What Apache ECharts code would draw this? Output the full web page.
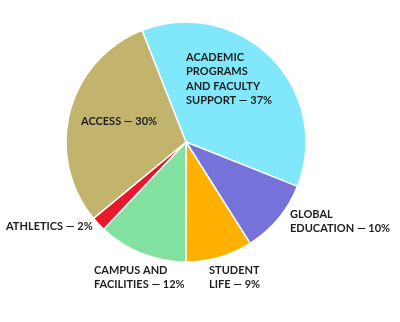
<!DOCTYPE html>
<html><head><meta charset="utf-8">
<script src="https://cdn.jsdelivr.net/npm/echarts@6/dist/echarts.min.js"></script>
<style>html,body{margin:0;padding:0;background:#fff}#c{width:400px;height:322px}</style>
</head><body><div id="c"></div>
<script>
const categories = ["ACADEMIC\nPROGRAMS\nAND FACULTY\nSUPPORT", "GLOBAL\nEDUCATION", "STUDENT\nLIFE", "CAMPUS AND\nFACILITIES", "ATHLETICS", "ACCESS"];
const values = [37, 10, 9, 12, 2, 30];
const colors = ["#80E8FA", "#7771DA", "#FFB103", "#82E0A0", "#E8182C", "#C2B46C"];
const labelPos = [[186, 50], [290, 207], [209, 263], [94, 263], [6, 219], [81, 114]];

const chart = echarts.init(document.getElementById('c'));
chart.setOption({
  animation: false,
  series: [{
    type: 'pie',
    center: [186, 142],
    radius: [0, 120],
    startAngle: 111.5,
    clockwise: true,
    data: categories.map((c, i) => ({name: c, value: values[i], itemStyle: {color: colors[i]}})),
    itemStyle: {borderColor: '#fff', borderWidth: 1.5},
    label: {
      show: true,
      formatter: p => p.name + ' \u2014 ' + p.value + '%',
      fontFamily: 'Lato, sans-serif',
      fontWeight: 'bold',
      fontSize: 11,
      lineHeight: 14.5,
      color: '#1e1e1e',
      align: 'left',
      overflow: 'none',
      width: 200
    },
    labelLine: {show: false},
    labelLayout: p => ({x: labelPos[p.dataIndex][0], y: labelPos[p.dataIndex][1], align: 'left', verticalAlign: 'top', width: 200})
  }]
});
</script></body></html>
